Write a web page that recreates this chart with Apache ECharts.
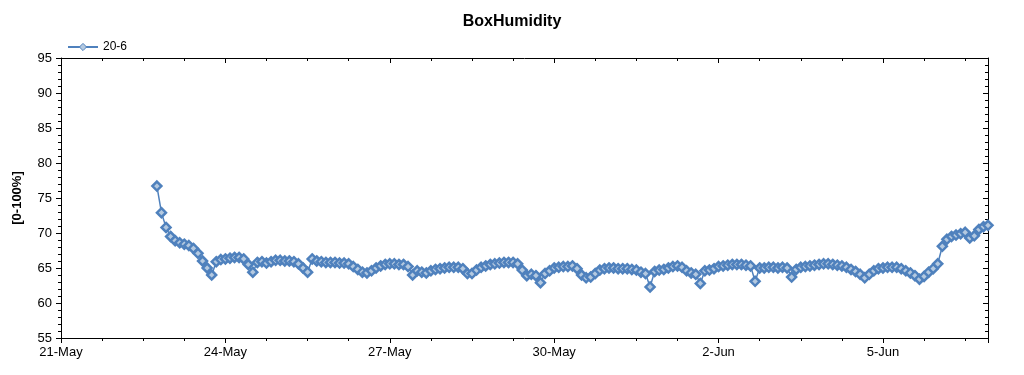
<!DOCTYPE html>
<html><head><meta charset="utf-8">
<script src="https://cdn.jsdelivr.net/npm/echarts@6/dist/echarts.min.js"></script>
<style>html,body{margin:0;padding:0;background:#fff}#c{width:1024px;height:375px}</style>
</head><body><div id="c"></div>
<script>
const chartTitle = 'BoxHumidity';
const seriesName = '20-6';
const yAxisName = '[0-100%]';
const xTickLabels = ['21-May', '24-May', '27-May', '30-May', '2-Jun', '5-Jun'];
const startDay = 1.75;   // first sample: 22-May 18:00 (days since 21-May 00:00)
const stepHours = 2;     // sampling interval
const humidity = [
  76.7, 72.9, 70.8, 69.5, 68.9, 68.6, 68.4, 68.2, 67.8, 67.1,
  66.0, 65.0, 64.0, 65.9, 66.2, 66.3, 66.4, 66.5, 66.5, 66.3,
  65.5, 64.4, 65.8, 65.9, 65.7, 65.9, 66.1, 66.1, 66.0, 66.0,
  65.9, 65.6, 65.0, 64.4, 66.3, 66.0, 65.9, 65.8, 65.8, 65.8,
  65.7, 65.7, 65.6, 65.2, 64.8, 64.4, 64.3, 64.6, 65.0, 65.3,
  65.5, 65.6, 65.6, 65.5, 65.5, 65.2, 64.0, 64.6, 64.4, 64.3,
  64.6, 64.8, 64.9, 65.0, 65.1, 65.1, 65.1, 64.9, 64.2, 64.2,
  64.7, 65.1, 65.3, 65.5, 65.6, 65.7, 65.8, 65.8, 65.8, 65.6,
  64.7, 63.9, 64.1, 63.9, 62.9, 64.2, 64.6, 65.0, 65.1, 65.2,
  65.2, 65.3, 64.9, 64.0, 63.6, 63.7, 64.2, 64.7, 64.9, 65.0,
  65.0, 64.9, 64.9, 64.9, 64.8, 64.7, 64.4, 64.2, 62.3, 64.5,
  64.7, 64.8, 65.0, 65.2, 65.3, 65.1, 64.6, 64.3, 64.1, 62.8,
  64.6, 64.7, 64.9, 65.2, 65.3, 65.4, 65.5, 65.5, 65.5, 65.4,
  65.3, 63.1, 65.0, 65.0, 65.1, 65.1, 65.0, 65.1, 65.0, 63.7,
  64.8, 65.1, 65.2, 65.3, 65.4, 65.5, 65.6, 65.6, 65.5, 65.4,
  65.3, 65.1, 64.8, 64.5, 64.1, 63.6, 64.1, 64.6, 64.9, 65.0,
  65.1, 65.1, 65.1, 64.9, 64.6, 64.3, 63.9, 63.4, 63.8, 64.4,
  64.9, 65.6, 68.1, 69.1, 69.5, 69.7, 69.9, 70.1, 69.3, 69.6,
  70.5, 70.9, 71.1
];

const data = humidity.map((v, i) => [startDay + i * stepHours / 24, v]);
const xMax = startDay + (humidity.length - 1) * stepHours / 24;
const FONT = 'Liberation Sans, Arial, sans-serif';
const lineColor = '#4f81bd';
const fillColor = '#b4c9e0';

const xLabelFmt = v => {
  const k = v / 3;
  const r = Math.round(k);
  return (Math.abs(k - r) < 1e-6 && r < xTickLabels.length) ? xTickLabels[r] : '';
};

const baseAxisLine = { show: true, onZero: false, lineStyle: { color: '#000', width: 1 } };

const chart = echarts.init(document.getElementById('c'), null, { renderer: 'canvas' });
chart.setOption({
  animation: false,
  backgroundColor: '#fff',
  title: {
    text: chartTitle, left: 'center', top: 9,
    textStyle: { fontFamily: FONT, fontSize: 16, fontWeight: 'bold', color: '#000' }
  },
  legend: {
    left: 62, top: 36, itemWidth: 30, itemHeight: 9, itemGap: 10,
    textStyle: { fontFamily: FONT, fontSize: 12, color: '#000' },
    data: [{ name: seriesName, itemStyle: { borderWidth: 1 } }]
  },
  grid: { left: 61, right: 36, top: 58, bottom: 37, containLabel: false },
  xAxis: [
    {
      type: 'value', position: 'bottom', min: 0, max: xMax, interval: 3,
      axisLine: baseAxisLine,
      axisTick: { show: true, inside: false, length: 5, lineStyle: { color: '#000' } },
      minorTick: { show: true, splitNumber: 4, length: 3, lineStyle: { color: '#000' } },
      axisLabel: { formatter: xLabelFmt, fontFamily: FONT, fontSize: 13, color: '#000', margin: 8, showMaxLabel: false },
      splitLine: { show: false }
    },
    {
      type: 'value', position: 'top', min: 0, max: xMax, interval: 3,
      axisLine: baseAxisLine,
      axisTick: { show: true, inside: true, length: 5, lineStyle: { color: '#000' } },
      minorTick: { show: true, splitNumber: 4, length: 3, lineStyle: { color: '#000' } },
      axisLabel: { show: false },
      splitLine: { show: false }
    }
  ],
  yAxis: [
    {
      type: 'value', position: 'left', min: 55, max: 95, interval: 5,
      name: yAxisName, nameLocation: 'middle', nameGap: 37, nameRotate: 90,
      nameTextStyle: { fontFamily: FONT, fontSize: 13, fontWeight: 'bold', color: '#000' },
      axisLine: baseAxisLine,
      axisTick: { show: true, inside: false, length: 5, lineStyle: { color: '#000' } },
      minorTick: { show: true, splitNumber: 5, length: 3, lineStyle: { color: '#000' } },
      axisLabel: { fontFamily: FONT, fontSize: 13, color: '#000', margin: 9 },
      splitLine: { show: false }
    },
    {
      type: 'value', position: 'right', min: 55, max: 95, interval: 5,
      axisLine: baseAxisLine,
      axisTick: { show: true, inside: true, length: 5, lineStyle: { color: '#000' } },
      minorTick: { show: true, splitNumber: 5, length: 3, lineStyle: { color: '#000' } },
      axisLabel: { show: false },
      splitLine: { show: false }
    }
  ],
  series: [{
    name: seriesName, type: 'line', xAxisIndex: 0, yAxisIndex: 0,
    data: data,
    symbol: 'diamond', symbolSize: 9, showAllSymbol: true,
    lineStyle: { color: lineColor, width: 1.5 },
    itemStyle: { color: fillColor, borderColor: lineColor, borderWidth: 2.5 },
    emphasis: { disabled: true }
  }]
});
</script>
</body></html>
